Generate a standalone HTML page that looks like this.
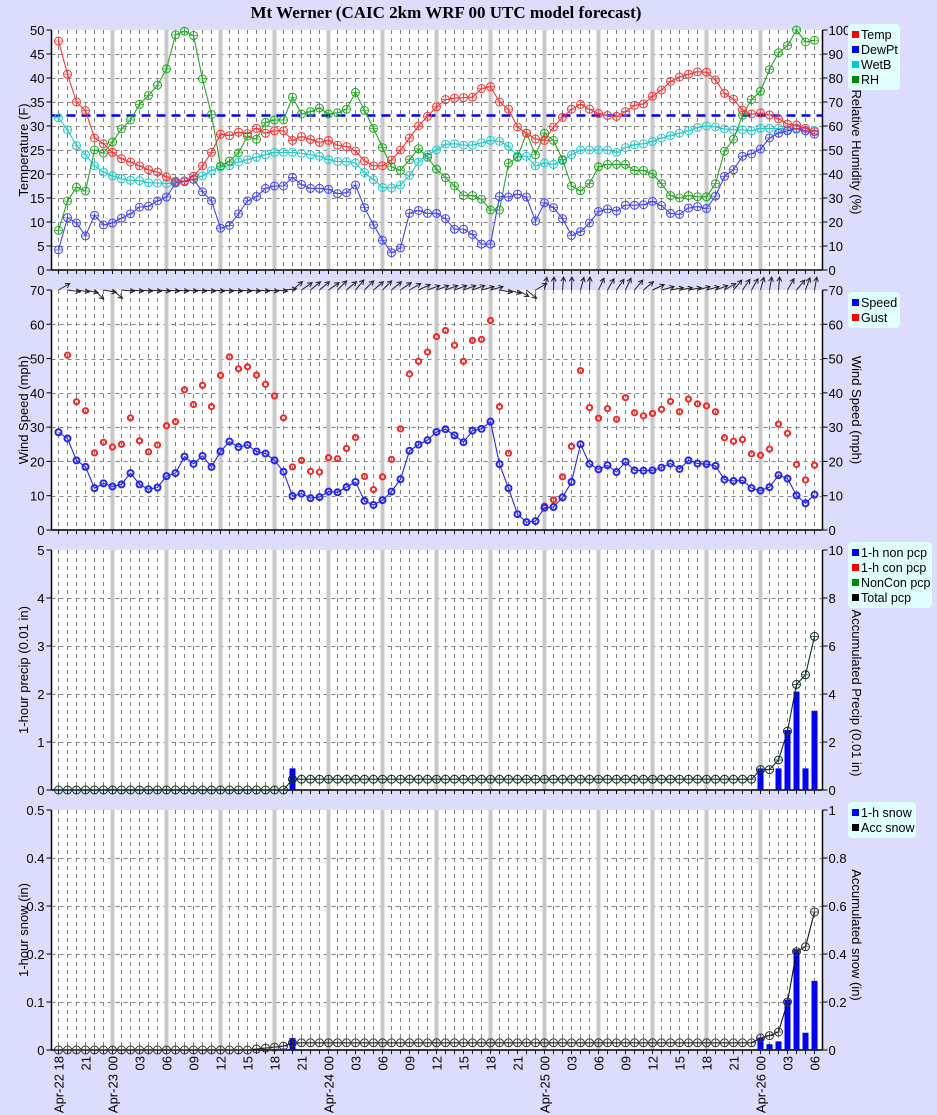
<!DOCTYPE html>
<html><head><meta charset="utf-8"><style>
body{margin:0;background:#dcdcfc;}
svg{display:block;font-family:"Liberation Sans",sans-serif;}
</style></head><body>
<svg id="s" width="937" height="1115" xmlns="http://www.w3.org/2000/svg"></svg>
<script>
const S=document.getElementById('s');let o='';
const X0=58.5,DX=9,L=51.5,R=822.5;
const xh=h=>X0+DX*h;
o+=`<rect width="937" height="1115" fill="#dcdcfc"/>`;
o+=`<text x="446" y="18" text-anchor="middle" font-family="Liberation Serif,serif" font-weight="bold" font-size="17">Mt Werner (CAIC 2km WRF 00 UTC model forecast)</text>`;
function panel(top,bot,nL,maxL,fmtL,nR,maxR,fmtR,labL,labR,cyR){
  o+=`<rect x="${L}" y="${top}" width="${R-L}" height="${bot-top}" fill="#fff"/>`;
  for(let h=0;h<=84;h++)o+=`<line x1="${xh(h)}" y1="${top}" x2="${xh(h)}" y2="${bot}" stroke="#808080" stroke-dasharray="4,4"/>`;
  for(let i=1;i<nL;i++){const y=Math.round(bot-(bot-top)*i/nL)+0.5;o+=`<line x1="${L}" y1="${y}" x2="${R}" y2="${y}" stroke="#808080" stroke-dasharray="4,4"/>`;}
  for(let h=6;h<=78;h+=6)o+=`<rect x="${xh(h)-2}" y="${top}" width="4" height="${bot-top}" fill="#c8c8c8"/>`;
  o+=`<path d="M${L},${top}V${bot}H${R}M${R},${top}V${bot}" stroke="#000" fill="none" stroke-width="1.5"/>`;
  for(let h=0;h<=84;h++)o+=`<line x1="${xh(h)}" y1="${bot}" x2="${xh(h)}" y2="${bot+4}" stroke="#000"/>`;
  for(let i=0;i<=nL;i++){const y=bot-(bot-top)*i/nL;o+=`<line x1="${L-5}" y1="${y}" x2="${L}" y2="${y}" stroke="#000"/><text x="${L-7}" y="${y+5}" text-anchor="end" font-size="13">${fmtL(maxL*i/nL)}</text>`;}
  for(let i=0;i<=nR;i++){const y=bot-(bot-top)*i/nR;o+=`<line x1="${R}" y1="${y}" x2="${R+5}" y2="${y}" stroke="#000"/><text x="${R+6}" y="${y+5}" font-size="13">${fmtR(maxR*i/nR)}</text>`;}
  const cy=(top+bot)/2;
  o+=`<text transform="translate(28,${cy}) rotate(-90)" text-anchor="middle" font-size="13">${labL}</text>`;
  o+=`<text transform="translate(852,${cyR||cy}) rotate(90)" text-anchor="middle" font-size="13">${labR}</text>`;
}
function legend(x,y,items,w){
  const hgt=items.length*15+6;
  o+=`<rect x="${x}" y="${y}" width="${w}" height="${hgt}" rx="4" fill="#e0ffff"/>`;
  items.forEach((it,i)=>{o+=`<rect x="${x+4}" y="${y+7+i*15}" width="7" height="7" fill="${it[1]}"/><text x="${x+13}" y="${y+15+i*15}" font-size="12.5">${it[0]}</text>`;});
}
function series(vals,fy,col,line,r,sw,mcol){
  let d='';vals.forEach((v,h)=>{if(v==null)return;d+=(d?'L':'M')+xh(h)+','+fy(v);});
  if(line)o+=`<path d="${d}" stroke="${line}" fill="none" stroke-width="1.1"/>`;
  vals.forEach((v,h)=>{if(v==null)return;const x=xh(h),y=fy(v);
    o+=`<circle cx="${x}" cy="${y}" r="${r}" stroke="${mcol||col}" stroke-width="${sw}" fill="none"/>`;
    if(sw<1.5)o+=`<path d="M${x-r},${y}h${2*r}M${x},${y-r}v${2*r}" stroke="${mcol||col}" stroke-width="0.7"/>`;});
}
const f0=v=>Math.round(v), f1=v=>(Math.round(v*10)/10).toString();
panel(30,270,10,50,f0,10,100,f0,'Temperature (F)','Relative Humidity (%)',152);
const T=[47.7,40.8,35,33.2,27.5,26.3,24.5,23.2,22.5,21.7,20.9,20.4,19.4,18.5,18.5,19.5,21.7,24.5,28.3,28,28.7,28.4,29.5,28.5,29,29,27,27.8,27.2,26.6,27,26,25.7,24.8,22.7,21.7,21.7,22.9,25,27.5,30,32,34,35.5,35.8,35.9,36,37.8,38.2,35,33.5,29.8,28.5,27.3,27,29.8,31.8,33.5,34.5,33.5,32.6,32.2,32,33,34.3,34.6,36.2,37.5,39.3,40.2,40.8,41.3,41.2,39.6,36.8,35.6,33.3,32.5,32.7,32.3,31.5,30.4,30.2,29.5,28.8];
const D=[4.2,10.9,9.8,7.1,11.4,9.4,9.8,10.8,11.7,13.1,13.3,14.4,15.2,18.1,18.4,18.9,16.3,14.4,8.7,9.3,11.7,14.4,15.3,17,17.5,17.5,19.3,17.8,17,17,16.8,15.9,16.1,17.7,13,9.4,6.2,3.6,4.6,11.8,12.4,11.8,11.8,10.7,8.5,8.5,7.4,5.4,5.4,15.3,15.2,15.8,15.2,10.2,14,13,10.7,7.2,8,9.8,12.2,12.7,12.3,13.5,13.5,13.6,14.3,13.4,11.8,11.6,12.9,13.2,12.8,15.4,19.5,20.9,23.7,24.2,25.2,27.5,28.5,29,29.5,29,28.3];
const W=[31.7,29.2,25.9,24,21.7,20.4,19.6,19,18.7,18.6,18.2,18.1,18,18.3,18.6,18.9,19.6,20.7,21.5,21.7,22.5,23,23.5,24,24.5,24.5,24.5,24.3,24,23.7,23,22.6,22.6,22.3,20.3,18.8,17.2,17.1,17.7,19.7,22.5,24,25,26.2,26.3,26,26,26.5,27,26.8,25.8,23.7,23.7,21.7,22.3,22,22.8,24,25,25,25,25,24.5,25.5,26.1,26.3,26.8,27.5,28,28.5,29,29.7,30,29.8,29.4,29.2,29.2,29,29.5,29.5,29.5,29.3,29.3,29,29.1];
const RH=[16.5,28.7,34.5,32.9,50,48.7,53.3,58.8,62.5,69,72.7,77,83.8,98,99.5,97.7,79.6,64.8,43.3,45.4,48.8,55.8,54.5,61.5,62.5,62.5,72,65,66,67.5,65,65.5,67,74,66.5,59,51,43,41.5,46,50.5,47,42,38.5,35,31,31,29.5,25,25,44.5,47,57,48,57,54,46,35,33,36,43,44,44,44,41.5,41.5,40,36,31,30,31,30.5,30.5,36,49.5,54.5,64.5,71,74.5,83.5,90.5,93.5,100,95,95.7];
const fT=v=>270-v*4.8, fR=v=>270-v*2.4;
o+=`<line x1="${L}" y1="${fT(32.2)}" x2="${R}" y2="${fT(32.2)}" stroke="#00f" stroke-width="2.5" stroke-dasharray="9,6"/>`;
series(W,fT,'#2cc','#2cc',4,1);
series(RH,fR,'#2a2','#2a2',4,1);
series(D,fT,'#44f','#44f',4,1);
series(T,fT,'#f33','#f33',4,1);
legend(848,24,[['Temp','#f00'],['DewPt','#00f'],['WetB','#0cc'],['RH','#080']],52);
panel(290,530,7,70,f0,7,70,f0,'Wind Speed (mph)','Wind Speed (mph)',410);
const SP=[28.5,26.7,20.3,18.4,12.2,13.6,12.7,13.3,16.6,13.3,11.9,12.4,15.7,16.6,21.4,19.3,21.6,18.4,22.9,25.8,24.2,24.8,22.9,22.3,20.3,17,9.9,10.6,9.3,9.6,11.2,11,12.5,14,8.5,7.3,8.7,11.2,14.8,23.1,24.9,26.2,28.6,29.4,27.6,25.6,29,29.5,31.6,19.2,12.2,4.6,2.3,2.6,6.5,6.7,9.5,14,25,19.3,17.7,18.9,16.9,19.9,17.4,17.3,17.4,18.2,19.4,17.8,20.3,19.4,19.2,18.7,14.7,14.3,14.5,12.2,11.5,12.5,16,15,10.1,7.8,10.3];
const G=[null,51,37.4,34.8,22.5,25.6,24.2,25,32.7,26,22.8,24.8,30.4,31.6,40.9,36.6,42.2,36,45.1,50.5,47,47.6,45.2,42.5,39.1,32.7,18.4,20.3,17.1,16.9,21.1,20.8,23.8,27,15.6,11.8,15.5,20.6,29.5,45.5,49.2,51.9,56.4,58.2,53.9,49.2,55.3,55.6,61.1,36,22.4,null,null,null,7,8.8,15.5,24.4,46.5,35.7,32.6,35.4,32.3,38.6,34.2,33.3,34,35.2,37.5,34.5,38.2,36.8,36.2,34.5,26.9,25.9,26.4,22.2,21.8,23.6,30.9,28.2,19.1,14.6,18.9];
const fW=v=>530-v*240/70;
series(G,fW,'#f22',null,2.6,2);
series(SP,fW,'#22f','#22f',3,2);
legend(848,292,[['Speed','#00f'],['Gust','#f00']],52);
const ang=[30,-8,-8,-12,-45,-10,-40,-5,-5,-5,-5,-5,-5,-5,-5,-5,-5,-5,-5,-5,-5,-5,-5,-5,-5,5,40,35,40,40,35,45,40,50,45,40,45,40,35,30,25,20,20,20,20,20,20,15,15,-10,-15,-30,-40,30,80,88,85,88,75,88,65,60,55,65,50,40,25,15,10,10,10,15,15,20,30,50,55,60,75,80,85,60,50,70,80];
ang.forEach((a,h)=>{const x=xh(h),y=290,r=a*Math.PI/180,ex=x+13*Math.cos(r),ey=y-13*Math.sin(r);
  const b1=r+Math.PI-0.5,b2=r+Math.PI+0.5;
  o+=`<path d="M${x},${y}L${ex},${ey}M${ex+5*Math.cos(b1)},${ey-5*Math.sin(b1)}L${ex},${ey}L${ex+5*Math.cos(b2)},${ey-5*Math.sin(b2)}" stroke="#222" fill="none" stroke-width="1"/>`;});
panel(550,790,5,5,f0,5,10,f0,'1-hour precip (0.01 in)','Accumulated Precip (0.01 in)',693);
const PB={26:0.45,78:0.45,80:0.45,81:1.25,82:2.05,83:0.45,84:1.65};
for(const h in PB){const v=PB[h];o+=`<rect x="${xh(+h)-3}" y="${790-v*48}" width="6" height="${v*48}" fill="#00f"/>`;}
const PA=[];for(let h=0;h<=84;h++)PA.push(h<26?0:0.45);
Object.assign(PA,{78:0.85,79:0.85,80:1.25,81:2.45,82:4.4,83:4.8,84:6.4});
series(PA,v=>790-v*24,'#132','#132',4,1);
legend(848,542,[['1-h non pcp','#00f'],['1-h con pcp','#f00'],['NonCon pcp','#080'],['Total pcp','#000']],84);
panel(810,1050,5,0.5,f1,5,1,f1,'1-hour snow (in)','Accumulated snow (in)',935);
const SB={22:0.002,23:0.002,24:0.002,25:0.003,26:0.025,78:0.025,79:0.012,80:0.018,81:0.105,82:0.21,83:0.036,84:0.144};
for(const h in SB){const v=SB[h];o+=`<rect x="${xh(+h)-3}" y="${1050-v*480}" width="6" height="${v*480}" fill="#00f"/>`;}
const SA=[];for(let h=0;h<=84;h++)SA.push(h<22?0:h<26?0.004*(h-21):0.03);
Object.assign(SA,{78:0.05,79:0.06,80:0.075,81:0.2,82:0.41,83:0.43,84:0.575});
series(SA,v=>1050-v*240,'#333','#111',4,1);
legend(848,802,[['1-h snow','#00f'],['Acc snow','#000']],68);
for(let h=0;h<=84;h+=3){const hr=(18+h)%24,day=22+Math.floor((18+h)/24);
  const t=hr==0||h==0?`Apr-${day} ${String(hr).padStart(2,'0')}`:String(hr).padStart(2,'0');
  o+=`<text transform="translate(${xh(h)+5},1056) rotate(-90)" text-anchor="end" font-size="13">${t}</text>`;}
S.innerHTML=o;
</script>
</body></html>
